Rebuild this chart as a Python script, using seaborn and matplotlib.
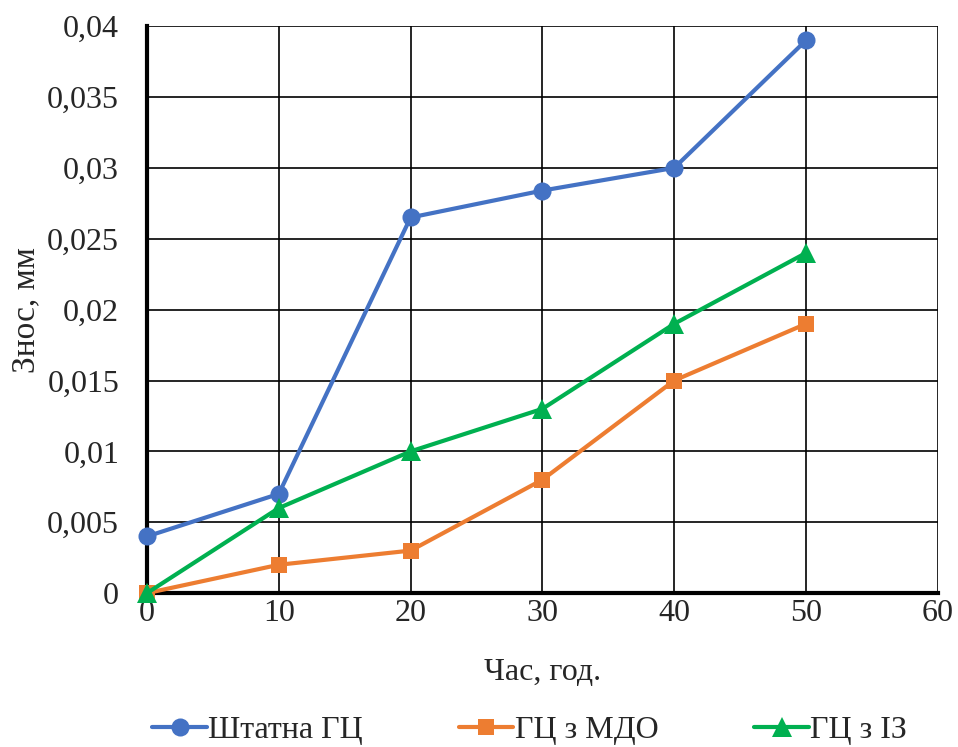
import matplotlib
matplotlib.use("Agg")
import matplotlib.pyplot as plt
import seaborn as sns
import pandas as pd
from matplotlib.ticker import FuncFormatter

hours = [0, 10, 20, 30, 40, 50]
standard = [0.004, 0.007, 0.0265, 0.0284, 0.030, 0.039]
mdo = [0.0, 0.002, 0.003, 0.008, 0.015, 0.019]
iz = [0.0, 0.006, 0.010, 0.013, 0.019, 0.024]
series_names = ["Штатна ГЦ", "ГЦ з МДО", "ГЦ з ІЗ"]
colors = ["#4472C4", "#ED7D31", "#00B050"]
markers = ["o", "s", "^"]
msizes = [13, 11, 15]

df = pd.DataFrame({
    "x": hours * 3,
    "y": standard + mdo + iz,
    "s": [series_names[0]] * 6 + [series_names[1]] * 6 + [series_names[2]] * 6,
})

sns.set_style("white")
plt.rcParams["font.family"] = ["Liberation Serif", "DejaVu Serif"]

fig = plt.figure(figsize=(9.58, 7.47), dpi=100)
ax = fig.add_axes([0.1534, 0.206, 0.979 - 0.1534, 0.965 - 0.206])

for name, c, m, ms in zip(series_names, colors, markers, msizes):
    sub = df[df["s"] == name]
    sns.lineplot(data=sub, x="x", y="y", ax=ax, color=c, marker=m,
                 markersize=ms, linewidth=3,
                 markeredgewidth=0, label=name, zorder=3, clip_on=False)

ax.set_xlim(0, 60)
ax.set_ylim(0, 0.04)
ax.set_xticks(range(0, 61, 10))
ax.set_yticks([i * 0.005 for i in range(9)])
ax.yaxis.set_major_formatter(FuncFormatter(lambda v, p: ("%g" % round(v, 4)).replace(".", ",")))
ax.grid(True, color="black", linewidth=1.2)
ax.set_axisbelow(True)
for s in ["top", "right"]:
    ax.spines[s].set_visible(False)
ax.spines["left"].set_linewidth(3)
ax.spines["bottom"].set_linewidth(3)
ax.spines["left"].set_color("black")
ax.spines["bottom"].set_color("black")
ax.tick_params(axis="y", labelsize=23, length=0, pad=20)
ax.tick_params(axis="x", labelsize=23, length=0, pad=4)
ax.set_xlabel("Час, год.", fontsize=23, labelpad=22)
ax.set_ylabel("Знос, мм", fontsize=24, labelpad=4)

leg = fig.legend(*ax.get_legend_handles_labels(), loc="center",
                 bbox_to_anchor=(0.553, 0.022), ncol=3,
                 frameon=False, fontsize=23, handlelength=1.7,
                 handletextpad=0.05, columnspacing=3.0,
                 borderpad=0, borderaxespad=0)
ax.get_legend().remove()

fig.savefig("out.png", dpi=100)
